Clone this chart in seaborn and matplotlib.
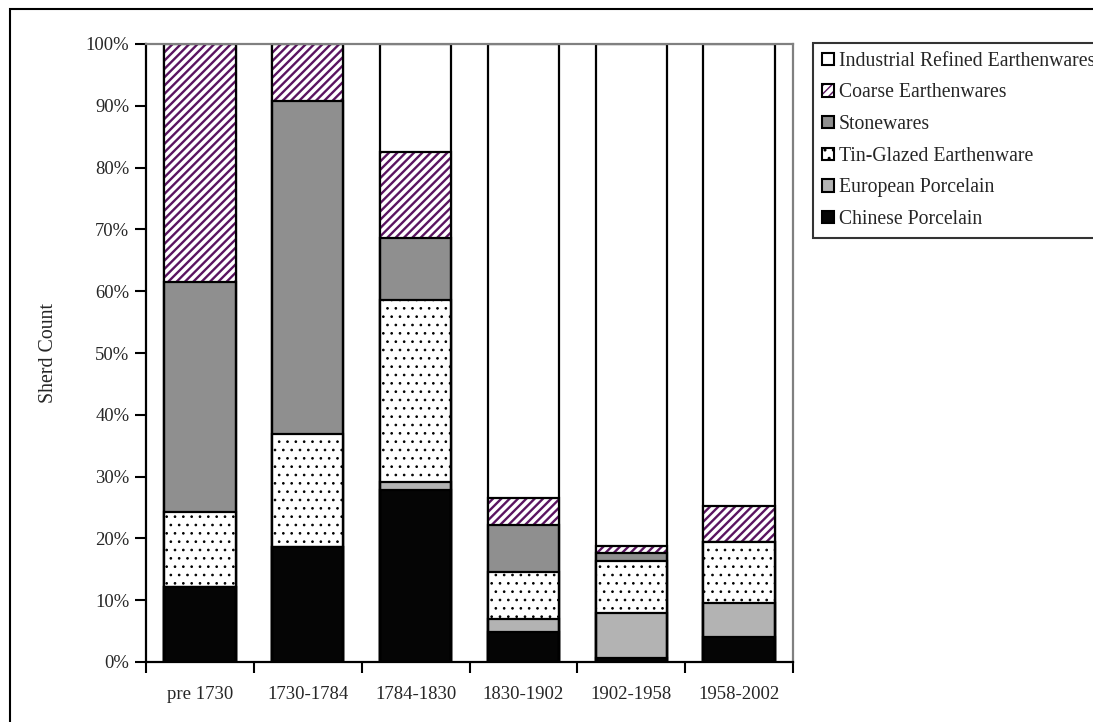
import matplotlib
matplotlib.use("Agg")
import matplotlib.pyplot as plt
import matplotlib.patches as mpatches
from matplotlib.legend_handler import HandlerTuple
from matplotlib.ticker import FixedLocator, PercentFormatter
import numpy as np
import pandas as pd
import seaborn as sns

# Sherd count shares (%) per period
periods = ["pre 1730", "1730-1784", "1784-1830", "1830-1902", "1902-1958", "1958-2002"]
chinese_porcelain = [12.1, 18.6, 27.9, 4.8, 0.6, 4.0]
european_porcelain = [0.0, 0.0, 1.2, 2.2, 7.4, 5.6]
tin_glazed = [12.1, 18.3, 29.5, 7.5, 8.4, 9.8]
stonewares = [37.3, 53.8, 10.0, 7.7, 1.3, 0.0]
coarse_earthenwares = [38.5, 9.3, 13.9, 4.3, 1.0, 5.8]
industrial_refined = [0.0, 0.0, 17.5, 73.5, 81.3, 74.8]

series_names = ["Chinese Porcelain", "European Porcelain", "Tin-Glazed Earthenware",
                "Stonewares", "Coarse Earthenwares", "Industrial Refined Earthenwares"]
series_values = [chinese_porcelain, european_porcelain, tin_glazed,
                 stonewares, coarse_earthenwares, industrial_refined]

PURPLE = "#5a1460"
styles = {
    "Chinese Porcelain": dict(facecolor="#050505", hatch=None, hatchcolor=None, hlw=1.0),
    "European Porcelain": dict(facecolor="#b3b3b3", hatch=None, hatchcolor=None, hlw=1.0),
    "Tin-Glazed Earthenware": dict(facecolor="white", hatch="..", hatchcolor="black", hlw=0.7),
    "Stonewares": dict(facecolor="#8f8f8f", hatch=None, hatchcolor=None, hlw=1.0),
    "Coarse Earthenwares": dict(facecolor="white", hatch="////", hatchcolor=PURPLE, hlw=1.7),
    "Industrial Refined Earthenwares": dict(facecolor="white", hatch=None, hatchcolor=None, hlw=1.0),
}

sns.set_theme(style="white")
plt.rcParams["font.family"] = ["Liberation Serif", "DejaVu Serif"]

df = pd.DataFrame(dict(zip(series_names, series_values)), index=periods)
cum = df.cumsum(axis=1)

fig = plt.figure(figsize=(10.93, 7.22), dpi=100)
ax = fig.add_axes([146 / 1093, 1 - 662 / 722, (793 - 146) / 1093, (662 - 44) / 722])

BAR_W = 0.66
EDGE_W = 1.6
# Cumulative bars drawn from the top layer down so each segment shows its own band
for name in reversed(series_names):
    st = styles[name]
    data = pd.DataFrame({"period": periods, "top": cum[name].values})
    n_before = len(ax.patches)
    with plt.rc_context({"hatch.linewidth": st["hlw"]}):
        sns.barplot(data=data, x="period", y="top", order=periods, ax=ax,
                    color=st["facecolor"], saturation=1, width=BAR_W, errorbar=None,
                    edgecolor="black", linewidth=EDGE_W)
        new_bars = ax.patches[n_before:]
        for b in new_bars:
            b.set_facecolor(st["facecolor"])
            if st["hatch"]:
                b.set_hatch(st["hatch"])
                b.set_edgecolor(st["hatchcolor"])
                b.set_linewidth(0)
                # black outline over the hatched fill
                ax.add_patch(mpatches.Rectangle(b.get_xy(), b.get_width(), b.get_height(),
                                                fill=False, edgecolor="black",
                                                linewidth=EDGE_W,
                                                zorder=b.get_zorder() + 0.01))

ax.set_xlim(-0.5, len(periods) - 0.5)
ax.set_ylim(0, 100)
ax.yaxis.set_major_locator(FixedLocator(np.arange(0, 101, 10)))
ax.yaxis.set_major_formatter(PercentFormatter(decimals=0))
ax.xaxis.set_minor_locator(FixedLocator(np.arange(-0.5, len(periods), 1.0)))
ax.tick_params(axis="x", which="major", length=0, pad=17, labelsize=13.5)
ax.tick_params(axis="x", which="minor", length=8, width=1.5, direction="out",
               color="black", bottom=True)
ax.tick_params(axis="y", length=8, width=1.5, direction="out", color="black",
               left=True, labelsize=13.4, pad=4)
ax.set_xlabel("")
ax.set_ylabel("Sherd Count", fontsize=14.3, labelpad=20)

for side in ["left", "bottom"]:
    ax.spines[side].set_color("black")
    ax.spines[side].set_linewidth(1.6)
for side in ["top", "right"]:
    ax.spines[side].set_visible(True)
    ax.spines[side].set_color("#808080")
    ax.spines[side].set_linewidth(1.6)

# Legend, top layer first; hatched keys are a fill overlaid with a black outline
handles = []
for name in reversed(series_names):
    st = styles[name]
    with plt.rc_context({"hatch.linewidth": st["hlw"]}):
        if st["hatch"]:
            fill = mpatches.Patch(facecolor=st["facecolor"], edgecolor=st["hatchcolor"],
                                  linewidth=0, hatch=st["hatch"])
            outline = mpatches.Patch(fill=False, edgecolor="black", linewidth=1.5)
            handles.append((fill, outline))
        else:
            handles.append(mpatches.Patch(facecolor=st["facecolor"], edgecolor="black",
                                          linewidth=1.5))
leg = fig.legend(handles, list(reversed(series_names)), loc="upper left",
                 bbox_to_anchor=(813 / 1093, 1 - 43 / 722), frameon=True,
                 fancybox=False, edgecolor="black", fontsize=14.2,
                 handler_map={tuple: HandlerTuple(ndivide=1, pad=0)},
                 handlelength=0.6, handleheight=0.6, handletextpad=0.25,
                 labelspacing=0.64, borderpad=0.45, borderaxespad=0)
leg.get_frame().set_linewidth(1.5)

# Figure frame
fig.patches.append(mpatches.Rectangle((10 / 1093, -0.05), 1.2, 1.05 - 9 / 722,
                                      transform=fig.transFigure, fill=False,
                                      edgecolor="black", linewidth=1.5))

fig.savefig("out.png", dpi=100, facecolor="white")
